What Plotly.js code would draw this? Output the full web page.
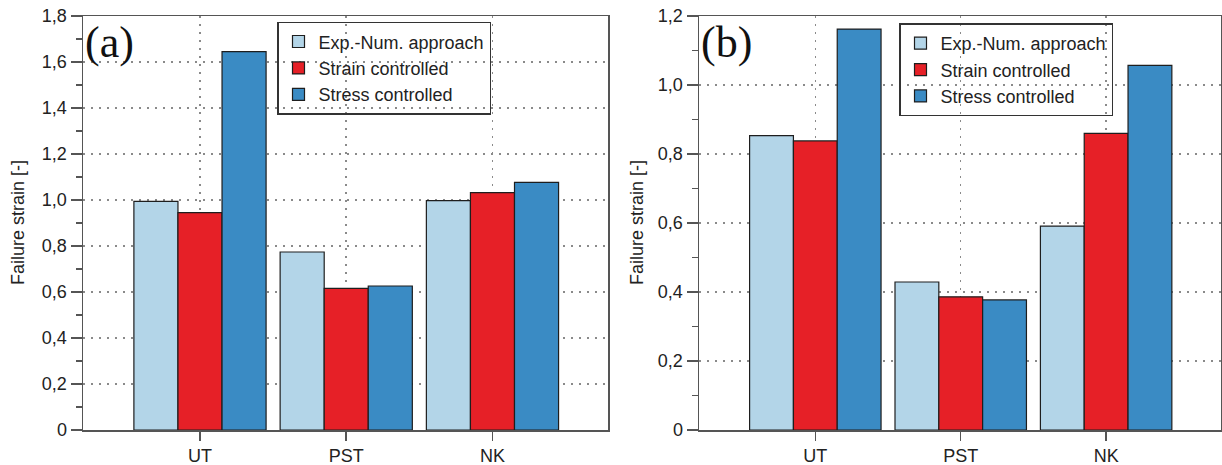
<!DOCTYPE html>
<html>
<head>
<meta charset="utf-8">
<script src="https://cdn.plot.ly/plotly-3.0.1.min.js"></script>
<style>html,body{margin:0;padding:0;background:#fff;}#chart{width:1222px;height:465px;}</style>
</head>
<body>
<div id="chart"></div>
<script>
var categories = ['UT', 'PST', 'NK'];
var seriesNames = ['Exp.-Num. approach', 'Strain controlled', 'Stress controlled'];

// Panel (a)
var expNumA = [0.994, 0.774, 0.997];
var strainA = [0.945, 0.616, 1.032];
var stressA = [1.645, 0.626, 1.077];

// Panel (b)
var expNumB = [0.853, 0.429, 0.591];
var strainB = [0.838, 0.386, 0.860];
var stressB = [1.162, 0.377, 1.057];

var tickValsA = [0, 0.2, 0.4, 0.6, 0.8, 1.0, 1.2, 1.4, 1.6, 1.8];
var tickTextA = ['0', '0,2', '0,4', '0,6', '0,8', '1,0', '1,2', '1,4', '1,6', '1,8'];
var tickValsB = [0, 0.2, 0.4, 0.6, 0.8, 1.0, 1.2];
var tickTextB = ['0', '0,2', '0,4', '0,6', '0,8', '1,0', '1,2'];
var yTitle = 'Failure strain [-]';

var colors = ['#b3d5e8', '#e62027', '#3a8bc4'];
var FONT = 'Liberation Sans, Arial, Helvetica, sans-serif';

function mk(name, y, i, xa, ya, lg) {
  return {
    type: 'bar', name: name, x: categories, y: y, xaxis: xa, yaxis: ya,
    legend: lg,
    marker: {color: colors[i], line: {color: '#1e1e1e', width: 1.2}},
    hoverinfo: 'x+y+name'
  };
}

var data = [
  mk(seriesNames[0], expNumA, 0, 'x', 'y', 'legend'),
  mk(seriesNames[1], strainA, 1, 'x', 'y', 'legend'),
  mk(seriesNames[2], stressA, 2, 'x', 'y', 'legend'),
  mk(seriesNames[0], expNumB, 0, 'x2', 'y2', 'legend2'),
  mk(seriesNames[1], strainB, 1, 'x2', 'y2', 'legend2'),
  mk(seriesNames[2], stressB, 2, 'x2', 'y2', 'legend2')
];

var GRIDDASH = '2px,6px';

function xax(domain, anchor) {
  return {
    domain: domain, anchor: anchor, range: [-0.8, 2.79],
    showline: true, mirror: true, linecolor: '#555', linewidth: 1.5,
    ticks: 'outside', ticklen: 9, tickwidth: 1.5, tickcolor: '#555',
    showgrid: true, gridcolor: '#8a8a8a', griddash: GRIDDASH, gridwidth: 1.5,
    tickfont: {family: FONT, size: 18, color: '#222'},
    fixedrange: true, zeroline: false
  };
}
function yax(domain, anchor, rng, tv, tt) {
  return {
    domain: domain, anchor: anchor, range: rng,
    tickmode: 'array', tickvals: tv, ticktext: tt,
    showline: true, mirror: true, linecolor: '#555', linewidth: 1.5,
    ticks: 'outside', ticklen: 11, tickwidth: 1.5, tickcolor: '#555',
    minor: {tickmode: 'linear', tick0: 0, dtick: 0.1, ticks: 'outside', ticklen: 6, tickwidth: 1.5, tickcolor: '#555', showgrid: false},
    showgrid: true, gridcolor: '#8a8a8a', griddash: GRIDDASH, gridwidth: 1.5,
    tickfont: {family: FONT, size: 18, color: '#222'},
    zeroline: false, fixedrange: true
  };
}

var legendStyle = function (x, y) {
  return {
    x: x, y: y, xanchor: 'left', yanchor: 'top', xref: 'paper', yref: 'paper',
    bgcolor: 'rgba(255,255,255,0)', bordercolor: '#333', borderwidth: 1.5,
    font: {family: FONT, size: 18, color: '#222'},
    tracegroupgap: 0, traceorder: 'normal'
  };
};

function yTitleAnn(xpx) {
  return {text: yTitle, xref: 'paper', yref: 'paper', x: xpx / 1222, y: 0.5,
    xanchor: 'center', yanchor: 'middle', textangle: -90, showarrow: false,
    font: {family: FONT, size: 18, color: '#222'}};
}

var layout = {
  width: 1222, height: 465,
  margin: {l: 0, r: 0, t: 16, b: 35},
  paper_bgcolor: '#fff', plot_bgcolor: '#fff',
  barmode: 'group', bargap: 0.096, bargroupgap: 0,
  xaxis: xax([83 / 1222, 608 / 1222], 'y'),
  yaxis: yax([0, 1], 'x', [0, 1.8], tickValsA, tickTextA),
  xaxis2: xax([699 / 1222, 1221 / 1222], 'y2'),
  yaxis2: yax([0, 1], 'x2', [0, 1.2], tickValsB, tickTextB),
  legend: legendStyle(277 / 1222, 0.986),
  legend2: legendStyle(899 / 1222, 0.982),
  showlegend: true,
  annotations: [
    yTitleAnn(18),
    yTitleAnn(637),
    {text: '(a)', xref: 'x domain', yref: 'y domain', x: 0.0, y: 1.0, xanchor: 'left', yanchor: 'top',
     showarrow: false, font: {family: 'Liberation Serif, Times New Roman, serif', size: 44, color: '#111'}},
    {text: '(b)', xref: 'x2 domain', yref: 'y2 domain', x: 0.0, y: 1.0, xanchor: 'left', yanchor: 'top',
     showarrow: false, font: {family: 'Liberation Serif, Times New Roman, serif', size: 44, color: '#111'}}
  ]
};

Plotly.newPlot('chart', data, layout, {displayModeBar: false, staticPlot: true});
</script>
</body>
</html>
